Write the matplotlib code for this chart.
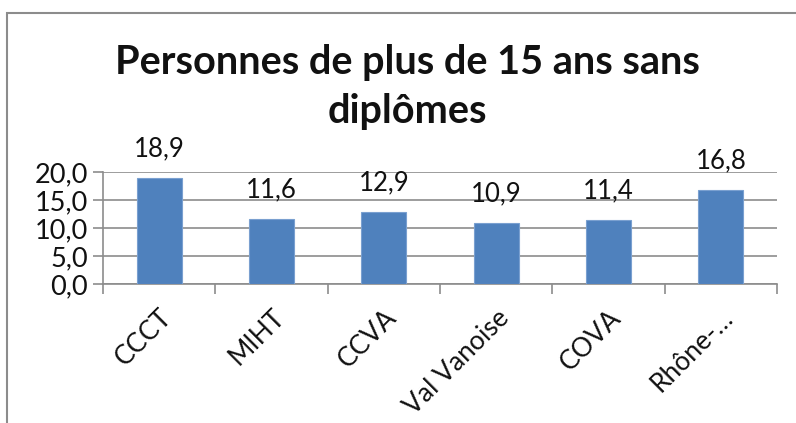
import matplotlib.pyplot as plt
from matplotlib.patches import Rectangle
from matplotlib.transforms import ScaledTranslation

# chart data
categories = ['CCCT', 'MIHT', 'CCVA', 'Val Vanoise', 'COVA', 'Rhône-…']
values = [18.9, 11.6, 12.9, 10.9, 11.4, 16.8]
yticks = [0, 5, 10, 15, 20]
title_lines = ['Personnes de plus de 15 ans sans', 'diplômes']

plt.rcParams['font.family'] = ['Lato', 'DejaVu Sans']

fig = plt.figure(figsize=(7.96, 4.23), dpi=100)
W, H = 796, 423

# chart frame (only top/left visible in the reference)
fig.patches.append(Rectangle((7 / W, -0.1), 1.2, 1.1 - 13 / H,
                             transform=fig.transFigure, fill=False,
                             edgecolor='#8c8c8c', linewidth=1.5))

ax = fig.add_axes([103 / W, 1 - 284 / H, (777 - 103) / W, (284 - 172) / H])

x = range(len(categories))
ax.bar(x, values, width=0.4, color='#4f81bd', edgecolor='#7aa0d0',
       linewidth=0.8, zorder=3)

for i, v in enumerate(values):
    ax.annotate(f'{v:.1f}'.replace('.', ','), (i, v), xytext=(0, 12),
                textcoords='offset points', ha='center', va='bottom',
                fontsize=18.5, color='#111111')

ax.set_xlim(-0.5, len(categories) - 0.5)
ax.set_ylim(0, 20)
ax.set_yticks(yticks)
ax.set_yticklabels([f'{t:.1f}'.replace('.', ',') for t in yticks],
                   fontsize=19.5, color='#111111')
ax.yaxis.grid(True, color='#8c8c8c', linewidth=1.2, zorder=0)
ax.set_axisbelow(True)

# ticks between categories, labels at centers
ax.set_xticks([i - 0.5 for i in range(len(categories) + 1)])
ax.set_xticklabels([])
ax.set_xticks(list(x), minor=True)
ax.set_xticklabels(categories, minor=True, rotation=45, ha='right',
                   rotation_mode='anchor', fontsize=19, color='#111111')
shift = ScaledTranslation(4 / 100, 0, fig.dpi_scale_trans)
for lbl in ax.get_xticklabels(minor=True):
    lbl.set_transform(lbl.get_transform() + shift)
ax.tick_params(axis='x', which='minor', length=0, pad=15)
ax.tick_params(axis='x', which='major', length=7, color='#8c8c8c', width=1.2)
ax.tick_params(axis='y', length=7, color='#8c8c8c', width=1.2, pad=4)

for s in ['top', 'right']:
    ax.spines[s].set_visible(False)
for s in ['left', 'bottom']:
    ax.spines[s].set_color('#8c8c8c')
    ax.spines[s].set_linewidth(1.2)

for line, base in zip(title_lines, [74, 123]):
    fig.text(407 / W, 1 - base / H, line, ha='center', va='baseline',
             fontsize=28.5, fontweight='bold', color='#111111')

fig.savefig('out.png', dpi=100)
